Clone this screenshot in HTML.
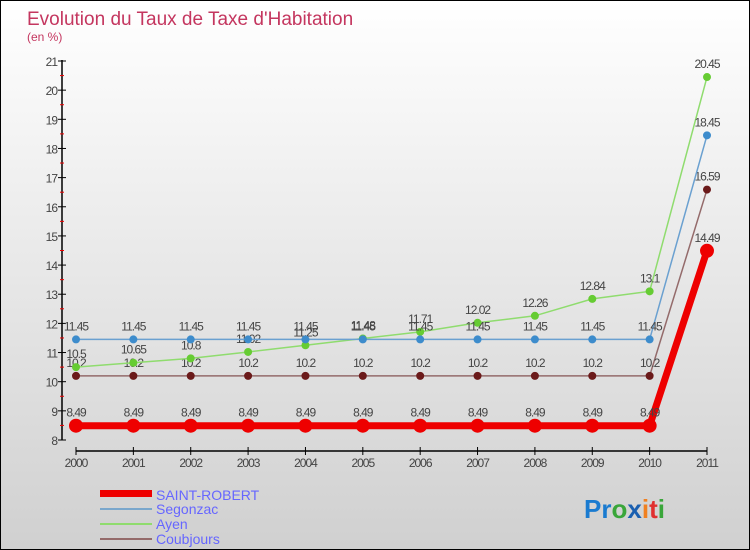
<!DOCTYPE html>
<html><head><meta charset="utf-8"><style>
body{margin:0}
#c{width:750px;height:550px;position:relative;box-sizing:border-box;border:1px solid #000;background:linear-gradient(#ffffff,#d0d0d0);font-family:"Liberation Sans",sans-serif;overflow:hidden}
</style></head><body>
<div id="c">
<svg id="s" width="748" height="548" style="position:absolute;left:0;top:0">
<text x="26" y="24" font-size="19" fill="#c4365f">Evolution du Taux de Taxe d'Habitation</text>
<text x="26" y="40" font-size="12" fill="#c4365f">(en %)</text>
<g id="axes"></g><g id="series"></g>
<g>
<rect x="99" y="489" width="52" height="7" fill="#ee0000"/>
<text x="155" y="499" font-size="14" fill="#6666ff">SAINT-ROBERT</text>
<rect x="99" y="507" width="52" height="2" fill="#7aa7cc"/>
<text x="155" y="513" font-size="14" fill="#6666ff">Segonzac</text>
<rect x="99" y="522" width="52" height="2" fill="#8fdc6e"/>
<text x="155" y="528" font-size="14" fill="#6666ff">Ayen</text>
<rect x="99" y="537" width="52" height="2" fill="#946b6b"/>
<text x="155" y="543" font-size="14" fill="#6666ff">Coubjours</text>
</g>
<text x="583" y="517" font-size="26" font-weight="bold"><tspan fill="#1a7bd0">Pr</tspan><tspan fill="#3aa63a">o</tspan><tspan fill="#1a5fb0">x</tspan><tspan fill="#f08020">i</tspan><tspan fill="#e03030">t</tspan><tspan fill="#3aa63a">i</tspan></text>
</svg>
</div>
<script>
const years=[2000,2001,2002,2003,2004,2005,2006,2007,2008,2009,2010,2011];
const saintRobert=[8.49,8.49,8.49,8.49,8.49,8.49,8.49,8.49,8.49,8.49,8.49,14.49];
const segonzac=[11.45,11.45,11.45,11.45,11.45,11.45,11.45,11.45,11.45,11.45,11.45,18.45];
const ayen=[10.5,10.65,10.8,11.02,11.25,11.48,11.71,12.02,12.26,12.84,13.1,20.45];
const coubjours=[10.2,10.2,10.2,10.2,10.2,10.2,10.2,10.2,10.2,10.2,10.2,16.59];
const yTicks=[8,9,10,11,12,13,14,15,16,17,18,19,20,21];
const NS="http://www.w3.org/2000/svg";
const X=i=>75+i*(631/11);
const Y=v=>439-(v-8)*(379/13);
function mk(t,a,p){const e=document.createElementNS(NS,t);for(const k in a)e.setAttribute(k,a[k]);p.appendChild(e);return e;}
const ax=document.getElementById('axes');
let l=mk('line',{x1:61,y1:Y(21)-1,x2:61,y2:Y(8),stroke:'#000','stroke-width':1.5},ax);

yTicks.forEach(v=>{
 let t=mk('line',{x1:57,x2:65,y1:Y(v),y2:Y(v),stroke:'#000'},ax);
 
 let tx=mk('text',{x:56,y:Y(v)+5,'font-size':12,fill:'#444','text-anchor':'end','letter-spacing':'-1'},ax);tx.textContent=v;
 
 if(v<21){let m=mk('line',{x1:59,x2:63,y1:Y(v+0.5),y2:Y(v+0.5),stroke:'#e00'},ax);
 }
});
l=mk('line',{x1:X(0),x2:X(11),y1:450,y2:450,stroke:'#000','stroke-width':1.5},ax);

years.forEach((y,i)=>{
 let t=mk('line',{x1:X(i),x2:X(i),y1:446,y2:454,stroke:'#000'},ax);
 
 let tx=mk('text',{x:X(i),y:466,'font-size':12,fill:'#444','text-anchor':'middle','letter-spacing':'-1'},ax);tx.textContent=y;
 
});
const sg=document.getElementById('series');
function series(name,data,color,w,r,fill){
 const g=mk('g',{},sg);
 
 let p=mk('polyline',{points:data.map((v,i)=>X(i)+','+Y(v)).join(' '),fill:'none',stroke:color,'stroke-width':w},g);
 
 data.forEach((v,i)=>{
  let c=mk('circle',{cx:X(i),cy:Y(v),r:r,fill:fill},g);
  
  let t=mk('text',{x:X(i),y:Y(v)-9,'font-size':12,fill:'#444','text-anchor':'middle','letter-spacing':'-1'},g);t.textContent=v;
  
 });
}
series('coubjours',coubjours,'#946b6b',1.5,4,'#6b1a1a');
series('ayen',ayen,'#8fdc6e',1.5,4,'#66cc33');
series('segonzac',segonzac,'#6aa0d0',1.5,4,'#3d8ccc');
series('saint-robert',saintRobert,'#ee0000',7,7,'#ee0000');
</script>
</body></html>
